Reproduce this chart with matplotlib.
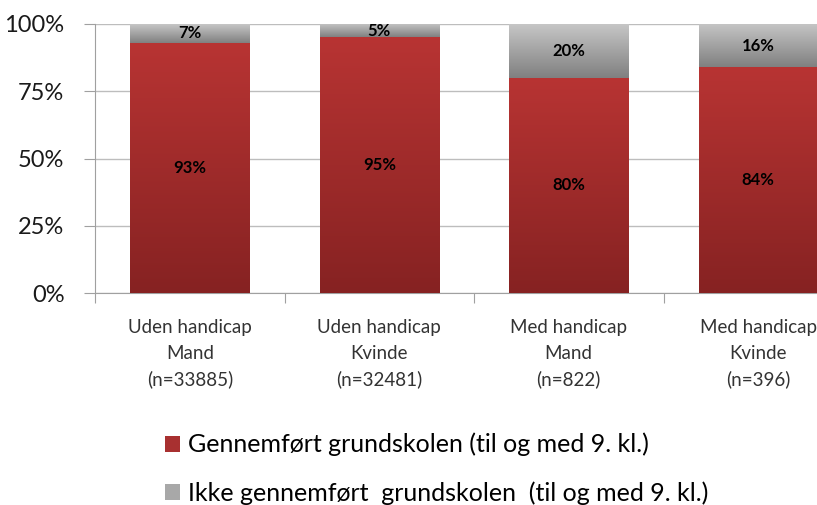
import numpy as np
import matplotlib
matplotlib.use("Agg")
from matplotlib import pyplot as plt
from matplotlib.patches import Patch
from matplotlib.colors import LinearSegmentedColormap

plt.rcParams['font.family'] = ['Lato', 'DejaVu Sans']

categories = ["Uden handicap\nMand\n(n=33885)",
              "Uden handicap\nKvinde\n(n=32481)",
              "Med handicap\nMand\n(n=822)",
              "Med handicap\nKvinde\n(n=396)"]
completed = [93, 95, 80, 84]
not_completed = [7, 5, 20, 16]
series_names = ["Gennemført grundskolen (til og med 9. kl.)",
                "Ikke gennemført  grundskolen  (til og med 9. kl.)"]
yticks = [0, 25, 50, 75, 100]
ytick_labels = ["0%", "25%", "50%", "75%", "100%"]

red_cmap = LinearSegmentedColormap.from_list("red", ["#862222", "#b83433"])
gray_cmap = LinearSegmentedColormap.from_list("gray", ["#808080", "#c6c6c6"])

fig = plt.figure(figsize=(8.17, 5.05), dpi=100)
ax = fig.add_axes([95/817, 1-293/505, 758/817, 269/505])

x = np.arange(len(categories))
w = 0.63
b1 = ax.bar(x, completed, w, color="#a02c2c", zorder=2)
b2 = ax.bar(x, not_completed, w, bottom=completed, color="#a0a0a0", zorder=2)

grad = np.linspace(0, 1, 256).reshape(-1, 1)
for bars, cmap in [(b1, red_cmap), (b2, gray_cmap)]:
    for r in bars:
        x0, y0 = r.get_x(), r.get_y()
        im = ax.imshow(grad, cmap=cmap, origin="lower", aspect="auto",
                       extent=[x0, x0 + r.get_width(), y0, y0 + r.get_height()],
                       zorder=3)
        im.set_clip_path(r)

for i in range(len(categories)):
    ax.text(x[i], completed[i] / 2, f"{completed[i]}%", ha="center", va="center",
            fontsize=12, fontweight="bold", color="black", zorder=4)
    ax.text(x[i], completed[i] + not_completed[i] / 2, f"{not_completed[i]}%",
            ha="center", va="center", fontsize=12, fontweight="bold",
            color="black", zorder=4)

ax.set_xlim(-0.5, len(categories) - 0.5)
ax.set_ylim(0, 100)
ax.set_yticks(yticks)
ax.set_yticklabels(ytick_labels, fontsize=17, color="#1a1a1a")
ax.yaxis.grid(True, color="#bdbdbd", linewidth=1, zorder=0)
ax.set_axisbelow(True)

ax.set_xticks(np.arange(len(categories) + 1) - 0.5)
ax.set_xticklabels([])
ax.set_xticks(x, minor=True)
ax.set_xticklabels(categories, minor=True, fontsize=13.5, color="#333333",
                   linespacing=1.6)
ax.tick_params(axis="x", which="minor", length=0, pad=19)
ax.tick_params(axis="x", which="major", length=7, color="#a0a0a0")
ax.tick_params(axis="y", length=8, color="#a0a0a0", pad=14)

for s in ["top", "right"]:
    ax.spines[s].set_visible(False)
for s in ["left", "bottom"]:
    ax.spines[s].set_color("#a0a0a0")

handles = [Patch(facecolor="#a83030"), Patch(facecolor="#a8a8a8")]
fig.legend(handles, series_names, loc="center left",
           bbox_to_anchor=(165/817, 1-469/505), frameon=False, fontsize=18,
           handlelength=0.6, handleheight=0.6, handletextpad=0.3,
           labelspacing=1.0, borderpad=0, borderaxespad=0)

fig.savefig("out.png", dpi=100)
